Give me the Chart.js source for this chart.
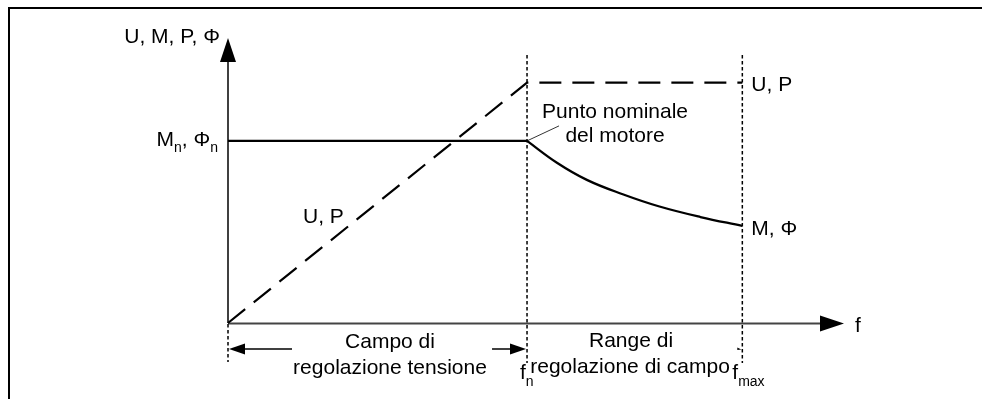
<!DOCTYPE html>
<html>
<head>
<meta charset="utf-8">
<script src="https://cdn.jsdelivr.net/npm/chart.js@4/dist/chart.umd.min.js"></script>
<style>
html,body{margin:0;padding:0;background:#fff;}
canvas{display:block;}
</style>
</head>
<body>
<canvas id="c" width="982" height="399"></canvas>
<script>
// ---- data (arbitrary units: f in Hz-like units, quantities in % of nominal) ----
const fNominal = 50;
const fMax = 86;
const fAxisEnd = 103;
const yAxisTop = 156.5;

const upX = [0, 50, 86];            // U, P (dashed)
const upY = [0, 132, 132];
const mnX = [0, 50];                // M, Phi constant region
const mnY = [100, 100];
const mX = [50, 55, 60, 66, 72, 79, 86];   // M, Phi field weakening
const mY = [100, 88, 78.6, 70.7, 64.1, 58.2, 53.3];

const yAxisTitle = 'U, M, P, \u03A6';
const xAxisTitle = 'f';
const upLabel = 'U, P';
const mLabel = 'M, \u03A6';
const nominalLabel = ['Punto nominale', 'del motore'];
const range1Label = ['Campo di', 'regolazione tensione'];
const range2Label = ['Range di', 'regolazione di campo'];

const toPts = (xs, ys) => xs.map((v, i) => ({x: v, y: ys[i]}));

const FONT = '"Liberation Sans", Arial, Helvetica, sans-serif';

const drawPlugin = {
  id: 'schema',
  beforeDatasetsDraw(chart) {
    const ctx = chart.ctx;
    const xs = chart.scales.x, ys = chart.scales.y;
    const X0 = xs.getPixelForValue(0), Y0 = ys.getPixelForValue(0);
    const yTop = ys.getPixelForValue(yAxisTop);
    const xEnd = xs.getPixelForValue(fAxisEnd);
    const xFn = xs.getPixelForValue(fNominal);
    const xFm = xs.getPixelForValue(fMax);
    ctx.save();
    // frame
    ctx.strokeStyle = '#000'; ctx.lineWidth = 2; ctx.setLineDash([]);
    ctx.beginPath(); ctx.moveTo(9, 399); ctx.lineTo(9, 8); ctx.lineTo(982, 8); ctx.stroke();
    // y axis
    ctx.lineWidth = 1.5;
    ctx.beginPath(); ctx.moveTo(X0, Y0); ctx.lineTo(X0, yTop + 22); ctx.stroke();
    ctx.fillStyle = '#000';
    ctx.beginPath(); ctx.moveTo(X0, yTop); ctx.lineTo(X0 - 8, yTop + 24); ctx.lineTo(X0 + 8, yTop + 24); ctx.closePath(); ctx.fill();
    // x axis
    ctx.strokeStyle = '#444'; ctx.lineWidth = 2;
    ctx.beginPath(); ctx.moveTo(X0, Y0 + 0.5); ctx.lineTo(xEnd - 22, Y0 + 0.5); ctx.stroke();
    ctx.beginPath(); ctx.moveTo(xEnd, Y0 + 0.5); ctx.lineTo(xEnd - 24, Y0 - 7.5); ctx.lineTo(xEnd - 24, Y0 + 8.5); ctx.closePath(); ctx.fill();
    // dotted verticals
    ctx.strokeStyle = '#000'; ctx.lineWidth = 1.5; ctx.setLineDash([3.5, 2.5]);
    [xFn, xFm].forEach(px => { ctx.beginPath(); ctx.moveTo(px, 55); ctx.lineTo(px, Y0 + 40); ctx.stroke(); });
    ctx.beginPath(); ctx.moveTo(X0, Y0 + 1); ctx.lineTo(X0, Y0 + 39); ctx.stroke();
    ctx.setLineDash([]);
    // span arrows
    const yA = Y0 + 26;
    ctx.lineWidth = 1.5;
    ctx.beginPath(); ctx.moveTo(X0 + 16, yA); ctx.lineTo(X0 + 64, yA); ctx.stroke();
    ctx.beginPath(); ctx.moveTo(X0 + 1, yA); ctx.lineTo(X0 + 17, yA - 5.5); ctx.lineTo(X0 + 17, yA + 5.5); ctx.closePath(); ctx.fill();
    ctx.beginPath(); ctx.moveTo(xFn - 35, yA); ctx.lineTo(xFn - 16, yA); ctx.stroke();
    ctx.beginPath(); ctx.moveTo(xFn - 1, yA); ctx.lineTo(xFn - 17, yA - 5.5); ctx.lineTo(xFn - 17, yA + 5.5); ctx.closePath(); ctx.fill();
    // small arrow fragment at fmax
    ctx.beginPath(); ctx.moveTo(xFm - 1, yA + 0.5); ctx.lineTo(xFm - 5, yA - 1.5); ctx.lineTo(xFm - 5, yA + 1); ctx.closePath(); ctx.fill();
    ctx.restore();
  },
  afterDatasetsDraw(chart) {
    const ctx = chart.ctx;
    const xs = chart.scales.x, ys = chart.scales.y;
    const X0 = xs.getPixelForValue(0), Y0 = ys.getPixelForValue(0);
    const yTop = ys.getPixelForValue(yAxisTop);
    const xEnd = xs.getPixelForValue(fAxisEnd);
    const xFn = xs.getPixelForValue(fNominal);
    const xFm = xs.getPixelForValue(fMax);
    const yMn = ys.getPixelForValue(mnY[0]);
    const yUp = ys.getPixelForValue(upY[2]);
    const yMe = ys.getPixelForValue(mY[mY.length - 1]);
    ctx.save();
    // leader line
    ctx.strokeStyle = '#000'; ctx.lineWidth = 0.8;
    ctx.beginPath(); ctx.moveTo(xFn, yMn); ctx.lineTo(xFn + 32, yMn - 15); ctx.stroke();

    ctx.fillStyle = '#000';
    ctx.textBaseline = 'alphabetic';
    const big = '21px ' + FONT, small = '14px ' + FONT;
    const text = (s, x, y, align, f) => { ctx.font = f || big; ctx.textAlign = align || 'left'; ctx.fillText(s, x, y); };
    const seq = (parts, x, y) => {
      let cx = x;
      parts.forEach(([s, sub]) => {
        ctx.font = sub ? small : big; ctx.textAlign = 'left';
        ctx.fillText(s, cx, sub ? y + 6.5 : y);
        cx += ctx.measureText(s).width;
      });
      return cx - x;
    };
    const seqWidth = (parts) => parts.reduce((w, [s, sub]) => { ctx.font = sub ? small : big; return w + ctx.measureText(s).width; }, 0);

    text(yAxisTitle, X0 - 8, yTop + 5.3, 'right');
    const mnParts = [['M', false], ['n', true], [', \u03A6', false], ['n', true]];
    seq(mnParts, X0 - 10 - seqWidth(mnParts), yMn + 5);
    text(upLabel, X0 + 75, Y0 - 100, 'left');
    text(nominalLabel[0], xFn + 88, yMn - 22.6, 'center');
    text(nominalLabel[1], xFn + 88, yMn + 0.8, 'center');
    text(upLabel, xFm + 9, yUp + 8, 'left');
    text(mLabel, xFm + 9, yMe + 9.5, 'left');
    text(xAxisTitle, xEnd + 11, Y0 + 9, 'left');
    text(range1Label[0], X0 + 162, Y0 + 25.3, 'center');
    text(range1Label[1], X0 + 162, Y0 + 51, 'center');
    text(range2Label[0], xFn + 104, Y0 + 24, 'center');
    text(range2Label[1], xFn + 103, Y0 + 50, 'center');
    seq([['f', false], ['n', true]], xFn - 7, Y0 + 56.3);
    seq([['f', false], ['max', true]], xFm - 10, Y0 + 56.3);
    ctx.restore();
  }
};

new Chart(document.getElementById('c'), {
  type: 'line',
  data: {
    datasets: [
      { data: toPts(upX, upY), borderColor: '#000', borderWidth: 2.2, borderDash: [22, 11], pointRadius: 0, tension: 0, clip: false },
      { data: toPts(mnX, mnY), borderColor: '#000', borderWidth: 2.3, pointRadius: 0, tension: 0, clip: false },
      { data: toPts(mX, mY), borderColor: '#000', borderWidth: 2.3, pointRadius: 0, tension: 0.4, clip: false }
    ]
  },
  options: {
    responsive: false,
    animation: false,
    devicePixelRatio: 1,
    layout: { padding: { left: 228, right: 138, top: 38, bottom: 76 } },
    plugins: { legend: { display: false }, tooltip: { enabled: false } },
    scales: {
      x: { type: 'linear', display: false, min: 0, max: fAxisEnd },
      y: { type: 'linear', display: false, min: 0, max: yAxisTop }
    }
  },
  plugins: [drawPlugin]
});
</script>
</body>
</html>
